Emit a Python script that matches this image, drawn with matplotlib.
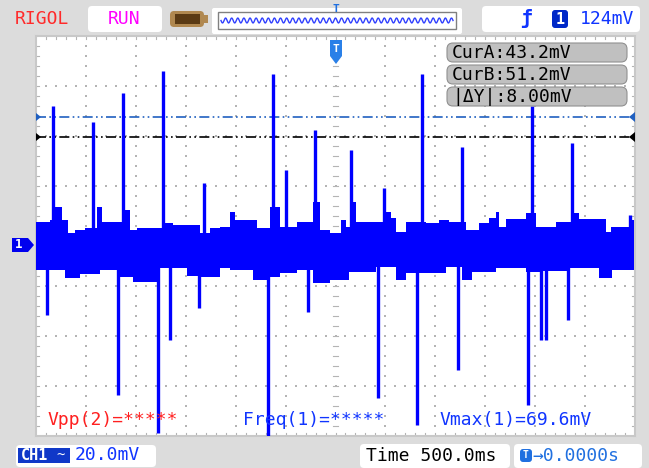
import numpy as np
import matplotlib
matplotlib.use('Agg')
import matplotlib.pyplot as plt
from matplotlib.patches import FancyBboxPatch, Rectangle, Polygon

# 通道1 噪声带上下包络 (时间 s, 电压 mV)
t_upper = [-3.00, -2.86, -2.83, -2.74, -2.68, -2.61, -2.51, -2.39, -2.34, -2.16, -2.11, -2.06,
           -1.99, -1.73, -1.63, -1.36, -1.26, -1.16, -1.06, -1.01, -0.79, -0.66, -0.56, -0.39,
           -0.23, -0.16, -0.06, 0.06, 0.11, 0.16, 0.21, 0.51, 0.56, 0.61, 0.71, 0.91, 1.04,
           1.14, 1.31, 1.44, 1.54, 1.61, 1.64, 1.71, 1.91, 2.01, 2.21, 2.37, 2.44, 2.71, 2.76,
           2.94, 2.99]
v_upper = [9.2, 10.0, 15.2, 10.0, 4.8, 6.0, 6.8, 15.2, 9.2, 9.2, 14.0, 6.0,
           6.8, 8.8, 8.0, 4.8, 6.8, 7.2, 13.2, 10.0, 6.8, 15.2, 7.2, 9.2,
           17.2, 6.0, 4.8, 10.0, 7.2, 17.2, 9.2, 13.2, 10.8, 5.2, 9.2, 8.8, 10.0,
           9.2, 6.0, 8.8, 10.8, 13.2, 7.2, 10.4, 12.8, 7.2, 9.2, 12.8, 10.4, 5.2, 7.2,
           10.0, 10.0]
t_lower = [-3.00, -2.71, -2.56, -2.36, -2.19, -2.03, -1.76, -1.49, -1.36, -1.16, -1.06, -0.83,
           -0.69, -0.56, -0.39, -0.23, -0.06, 0.14, 0.41, 0.61, 0.71, 1.11, 1.27, 1.37,
           1.61, 1.91, 2.07, 2.34, 2.64, 2.77, 2.99]
v_lower = [-10.0, -13.2, -11.6, -10.0, -12.8, -14.8, -9.2, -12.4, -12.8, -9.2, -10.0, -14.0,
           -12.8, -11.2, -10.0, -15.2, -14.0, -10.8, -8.8, -14.0, -11.2, -8.8, -14.0, -10.8,
           -9.2, -10.8, -10.4, -9.2, -13.2, -10.0, -10.0]

# 正向尖峰 / 负向尖峰
spike_up_t = [-2.83, -2.43, -2.13, -1.73, -1.32, -0.63, -0.50, -0.21, 0.16, 0.49, 0.87, 1.27,
              1.97, 2.37, 2.95]
spike_up_v = [55.6, 49.2, 60.8, 69.6, 24.8, 68.4, 30.0, 46.0, 38.0, 22.8, 68.4, 39.2,
              55.6, 40.8, 12.0]
spike_dn_t = [-2.89, -2.18, -1.78, -1.66, -1.37, -0.68, -0.28, 0.43, 0.82, 1.23, 1.93, 2.06,
              2.11, 2.33]
spike_dn_v = [-28.0, -60.0, -75.2, -38.0, -25.0, -85.0, -26.8, -61.2, -72.0, -50.0, -64.0, -38.0,
              -38.0, -30.0]

cur_a = 43.2
cur_b = 51.2
volt_div = 20.0      # mV/div
time_div = 0.5       # s/div
trig_level = '124mV'
vmax = 69.6

W, H = 649, 468
blue = '#0000ff'
tblue = '#1035ff'
mono = 'DejaVu Sans Mono'

fig = plt.figure(figsize=(W / 100, H / 100), dpi=100)
fig.patch.set_facecolor('#dcdcdc')

# 屏幕区域: x 36..635, y 36..436 (像素)
gx0, gx1, gy0, gy1 = 36, 635, 36, 436
ground_px = 245
ax = fig.add_axes([gx0 / W, 1 - gy1 / H, (gx1 - gx0) / W, (gy1 - gy0) / H], zorder=1)
ax.set_facecolor('white')
ax.set_xlim(-6 * time_div, 6 * time_div)
top_mv = (ground_px - gy0) / 50 * volt_div
bot_mv = (ground_px - gy1) / 50 * volt_div
ax.set_ylim(bot_mv, top_mv)
ax.set_xticks([])
ax.set_yticks([])
for s in ax.spines.values():
    s.set_color('#c8c8c8')
    s.set_linewidth(1.5)

# 网格点
mid_mv = (top_mv + bot_mv) / 2
dx = time_div / 5
dy = volt_div / 5
xs_major = [-3 + k * time_div for k in range(1, 12)]
ys_major = [bot_mv + k * volt_div for k in range(1, 8)]
yy = np.arange(bot_mv + dy, top_mv, dy)
xx = np.arange(-3 + dx, 3, dx)
for x in xs_major:
    if abs(x) < 1e-9:
        continue
    ax.scatter([x] * len(yy), yy, s=1.5, marker='s', color='#b4b4b4', lw=0, zorder=1)
for y in ys_major:
    if abs(y - mid_mv) < 1e-6:
        continue
    ax.scatter(xx, [y] * len(xx), s=1.5, marker='s', color='#b4b4b4', lw=0, zorder=1)
# 中心十字线上的刻度
for y in yy:
    ax.plot([-0.03, 0.03], [y, y], color='#b4b4b4', lw=0.8, zorder=1)
for x in xx:
    ax.plot([x, x], [mid_mv - 0.8, mid_mv + 0.8], color='#b4b4b4', lw=0.8, zorder=1)
# 边框刻度
for y in yy:
    ax.plot([-3, -2.97], [y, y], color='#b4b4b4', lw=0.8, zorder=1)
    ax.plot([2.97, 3], [y, y], color='#b4b4b4', lw=0.8, zorder=1)
for x in xx:
    ax.plot([x, x], [top_mv - 1.2, top_mv], color='#b4b4b4', lw=0.8, zorder=1)
    ax.plot([x, x], [bot_mv, bot_mv + 1.2], color='#b4b4b4', lw=0.8, zorder=1)

# 波形
ax.fill_between(t_upper, v_upper, 0, step='post', color=blue, lw=0, zorder=3)
ax.fill_between(t_lower, v_lower, 0, step='post', color=blue, lw=0, zorder=3)
ax.vlines(spike_up_t, 0, spike_up_v, color=blue, lw=2.4, zorder=3)
ax.vlines(spike_dn_t, 0, spike_dn_v, color=blue, lw=2.4, zorder=3)

# 光标线
ax.axhline(cur_b, color='#2060c0', lw=1.2, ls=(0, (6, 2, 1, 2, 1, 2)), zorder=2)
ax.axhline(cur_a, color='black', lw=1.2, ls=(0, (6, 2, 1, 2, 1, 2)), zorder=2)

# 叠加层 (像素坐标)
top = fig.add_axes([0, 0, 1, 1], zorder=2)
top.set_xlim(0, W)
top.set_ylim(H, 0)
top.axis('off')
top.patch.set_alpha(0)

def px_of_mv(v):
    return ground_px - v / volt_div * 50

def rbox(x, y, w, h, fc, ec='none', r=4, lw=1):
    top.add_patch(FancyBboxPatch((x, y), w, h, boxstyle=f'round,pad=0,rounding_size={r}',
                                 fc=fc, ec=ec, lw=lw))

# 顶部状态栏
top.text(15, 19, 'RIGOL', color='#ff2a2a', fontsize=13, family=mono, va='center')
rbox(88, 6, 74, 26, 'white')
top.text(124, 19, 'RUN', color='#ff00ff', fontsize=13, family=mono, va='center', ha='center')
rbox(170, 11, 34, 16, '#b08850', r=4)
top.add_patch(Rectangle((204, 15), 4, 8, fc='#b08850', ec='none'))
top.add_patch(Rectangle((175, 14), 25, 10, fc='#5a3a14', ec='none'))
rbox(212, 8, 250, 26, 'white', r=2)
top.add_patch(Rectangle((218, 12), 238, 17, fc='white', ec='#808080', lw=1))
wx = np.linspace(221, 453, 400)
top.plot(wx, 20.5 + 2.5 * np.sin((wx - 221) / 232 * 2 * np.pi * 38), color='#3040ff', lw=1)
top.text(336, 9, 'T', color='#2070e0', fontsize=8, family=mono, ha='center', va='center',
         fontweight='bold')
rbox(482, 6, 158, 26, 'white')
top.text(526, 19, '\u0192', color='#1035ff', fontsize=14, family=mono, ha='center', va='center',
         fontweight='bold')
rbox(552, 10, 16, 18, '#0028c8', r=3)
top.text(560, 19, '1', color='white', fontsize=11, family=mono, ha='center', va='center',
         fontweight='bold')
top.text(634, 19, trig_level, color=tblue, fontsize=13, family=mono, ha='right', va='center')

# 触发位置标记
top.add_patch(Polygon([[330, 40], [342, 40], [342, 56], [336, 64], [330, 56]], closed=True,
                      fc='#2a80e8', ec='none'))
top.text(336, 49, 'T', color='white', fontsize=8, family=mono, ha='center', va='center',
         fontweight='bold')

# 光标读数
for i, s in enumerate([f'CurA:{cur_a:.1f}mV', f'CurB:{cur_b:.1f}mV',
                       f'|\u0394Y|:{cur_b - cur_a:.2f}mV']):
    y = 43 + i * 22
    rbox(447, y, 180, 19, '#c0c0c0', ec='#909090', r=6, lw=0.8)
    top.text(452, y + 10, s, color='black', fontsize=13, family=mono, va='center')

# 光标端点箭头
yb = px_of_mv(cur_b)
ya = px_of_mv(cur_a)
for y, c in [(yb, '#2060c0'), (ya, 'black')]:
    top.add_patch(Polygon([[36, y - 4], [41, y], [36, y + 4]], fc=c, ec='none'))
    top.add_patch(Polygon([[635, y - 5], [629, y], [635, y + 5]], fc=c, ec='none'))

# 通道1 地电平标记
top.add_patch(Polygon([[12, ground_px - 7], [28, ground_px - 7], [34, ground_px],
                       [28, ground_px + 7], [12, ground_px + 7]], fc='#0000ee', ec='none'))
top.text(19, ground_px, '1', color='white', fontsize=9, family=mono, ha='center', va='center',
         fontweight='bold')

# 测量结果
top.text(47, 420, 'Vpp(2)=*****', color='#ff2020', fontsize=13, family=mono, va='center')
top.text(243, 420, 'Freq(1)=*****', color=tblue, fontsize=13, family=mono, va='center')
top.text(440, 420, f'Vmax(1)={vmax:.1f}mV', color=tblue, fontsize=13, family=mono, va='center')

# 底部状态栏
rbox(16, 445, 140, 22, 'white')
top.add_patch(Rectangle((18, 448), 34, 15, fc='#1038c8', ec='none'))
top.text(35, 455.5, 'CH1', color='white', fontsize=11, family=mono, ha='center', va='center',
         fontweight='bold')
top.add_patch(Rectangle((52, 448), 18, 15, fc='#1038c8', ec='none'))
top.text(61, 455.5, '~', color='white', fontsize=10, family=mono, ha='center', va='center')
top.text(75, 455.5, f'{volt_div:.1f}mV', color=tblue, fontsize=13, family=mono, va='center')

rbox(360, 444, 150, 24, 'white')
top.text(366, 456, f'Time {time_div * 1000:.1f}ms', color='black', fontsize=13, family=mono,
         va='center')
rbox(514, 444, 128, 24, 'white')
top.add_patch(FancyBboxPatch((520, 449), 12, 13, boxstyle='round,pad=0,rounding_size=3',
                             fc='#2070e0', ec='none'))
top.text(526, 455.5, 'T', color='white', fontsize=7, family=mono, ha='center', va='center',
         fontweight='bold')
top.text(532, 456, '\u21920.0000s', color='#2070e0', fontsize=13, family=mono, va='center')

fig.savefig('out.png', dpi=100, facecolor=fig.get_facecolor())
